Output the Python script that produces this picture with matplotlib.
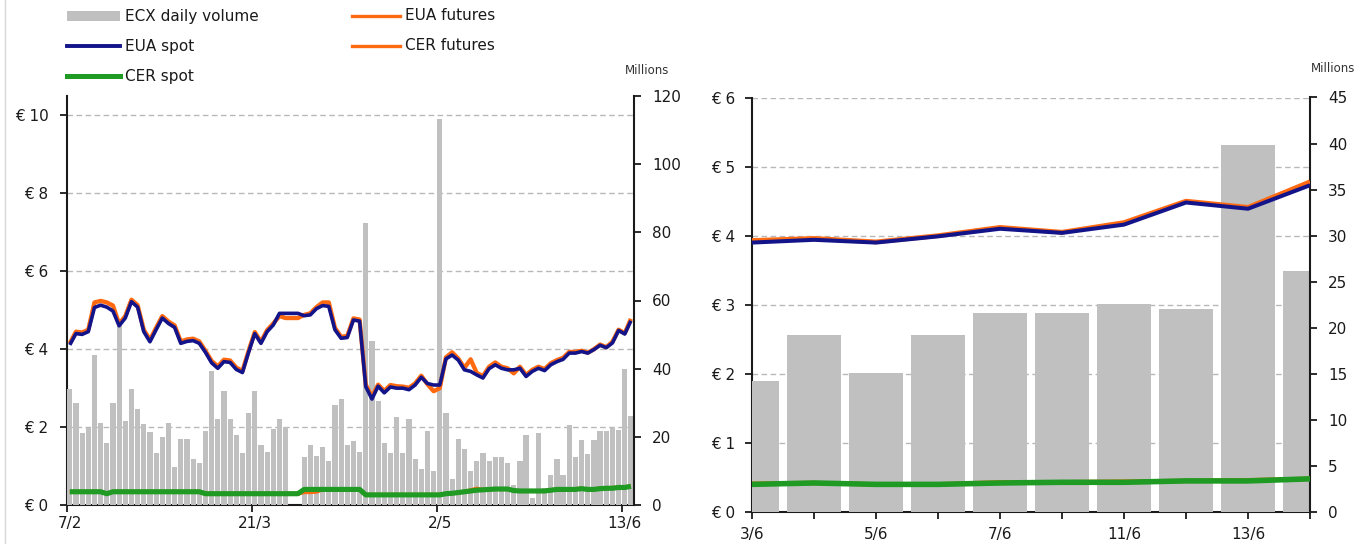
import matplotlib
matplotlib.use("Agg")
import matplotlib.pyplot as plt
from matplotlib.lines import Line2D
from matplotlib.patches import Rectangle
import numpy as np

plt.rcParams['font.family'] = ['DejaVu Sans']

# ---------------- data (business days 7 Feb 2013 .. 14 Jun 2013) ----------------
volume = [34.0, 29.9, 21.2, 22.7, 44.0, 24.0, 18.1, 29.8, 53.0, 24.6,
          34.0, 28.1, 23.9, 21.5, 15.2, 19.9, 24.0, 11.1, 19.3, 19.3,
          13.4, 12.4, 21.7, 39.4, 25.2, 33.5, 25.2, 20.5, 15.2, 26.9,
          33.5, 17.6, 15.6, 22.3, 25.2, 22.9, 0.0, 0.0, 14.0, 17.6,
          14.5, 17.1, 12.9, 29.3, 31.1, 17.6, 18.8, 15.5, 82.7, 48.2,
          30.6, 18.1, 15.2, 25.9, 15.2, 25.2, 13.5, 10.5, 21.7, 10.0,
          113.2, 26.9, 7.5, 19.4, 16.3, 10.0, 12.9, 15.2, 12.9, 14.0,
          14.2, 12.4, 5.9, 13.0, 20.5, 2.0, 21.2, 5.0, 8.8, 13.5,
          8.8, 23.5, 14.2, 19.2, 15.1, 19.2, 21.6, 21.6, 22.6, 22.0,
          39.8, 26.2]

eua_spot = [4.11, 4.40, 4.38, 4.45, 5.07, 5.13, 5.08, 4.98, 4.60, 4.80,
            5.22, 5.08, 4.45, 4.19, 4.50, 4.80, 4.66, 4.56, 4.15, 4.20,
            4.22, 4.15, 3.92, 3.65, 3.51, 3.68, 3.66, 3.48, 3.40, 3.92,
            4.40, 4.15, 4.45, 4.62, 4.92, 4.92, 4.92, 4.92, 4.86, 4.88,
            5.04, 5.12, 5.10, 4.50, 4.28, 4.30, 4.75, 4.72, 3.04, 2.72,
            3.05, 2.88, 3.03, 3.00, 3.00, 2.96, 3.08, 3.28, 3.12, 3.08,
            3.08, 3.75, 3.85, 3.72, 3.47, 3.43, 3.34, 3.26, 3.50, 3.60,
            3.51, 3.47, 3.47, 3.51, 3.30, 3.43, 3.51, 3.45, 3.60, 3.68,
            3.74, 3.90, 3.90, 3.94, 3.90, 3.99, 4.10, 4.04, 4.16, 4.48,
            4.39, 4.73]

eua_futures = [4.15, 4.45, 4.43, 4.50, 5.20, 5.24, 5.20, 5.12, 4.65, 4.85,
               5.27, 5.13, 4.50, 4.24, 4.55, 4.85, 4.71, 4.61, 4.20, 4.25,
               4.27, 4.20, 3.96, 3.70, 3.56, 3.73, 3.71, 3.53, 3.44, 3.96,
               4.44, 4.19, 4.49, 4.66, 4.85, 4.80, 4.80, 4.80, 4.88, 4.92,
               5.08, 5.20, 5.20, 4.55, 4.32, 4.34, 4.79, 4.76, 3.09, 2.78,
               3.09, 2.93, 3.08, 3.05, 3.04, 3.01, 3.12, 3.32, 3.10, 2.92,
               3.00, 3.79, 3.92, 3.76, 3.52, 3.74, 3.39, 3.31, 3.55, 3.66,
               3.55, 3.51, 3.38, 3.55, 3.34, 3.47, 3.55, 3.49, 3.64, 3.72,
               3.78, 3.93, 3.93, 3.96, 3.91, 4.00, 4.12, 4.05, 4.19, 4.50,
               4.41, 4.78]

cer_spot = [0.34, 0.34, 0.34, 0.34, 0.34, 0.34, 0.29, 0.34, 0.34, 0.34,
            0.34, 0.34, 0.34, 0.34, 0.34, 0.34, 0.34, 0.34, 0.34, 0.34,
            0.34, 0.34, 0.29, 0.29, 0.29, 0.29, 0.29, 0.29, 0.29, 0.29,
            0.29, 0.29, 0.29, 0.29, 0.29, 0.29, 0.29, 0.29, 0.40, 0.40,
            0.40, 0.40, 0.40, 0.40, 0.40, 0.40, 0.40, 0.40, 0.26, 0.26,
            0.26, 0.26, 0.26, 0.26, 0.26, 0.26, 0.26, 0.26, 0.26, 0.26,
            0.26, 0.29, 0.30, 0.32, 0.34, 0.36, 0.38, 0.39, 0.40, 0.41,
            0.41, 0.41, 0.37, 0.36, 0.36, 0.36, 0.36, 0.36, 0.38, 0.40,
            0.40, 0.40, 0.40, 0.42, 0.40, 0.40, 0.42, 0.43, 0.43, 0.45,
            0.45, 0.48]

cer_futures = [0.34, 0.34, 0.34, 0.34, 0.34, 0.34, 0.29, 0.34, 0.34, 0.34,
               0.34, 0.34, 0.34, 0.34, 0.34, 0.34, 0.34, 0.34, 0.34, 0.34,
               0.34, 0.34, 0.29, 0.29, 0.29, 0.29, 0.29, 0.29, 0.29, 0.29,
               0.29, 0.29, 0.29, 0.29, 0.29, 0.29, 0.29, 0.29, 0.33, 0.33,
               0.34, 0.40, 0.40, 0.40, 0.40, 0.40, 0.40, 0.40, 0.26, 0.26,
               0.26, 0.26, 0.26, 0.26, 0.26, 0.26, 0.26, 0.26, 0.26, 0.26,
               0.26, 0.29, 0.30, 0.32, 0.34, 0.38, 0.42, 0.39, 0.40, 0.41,
               0.41, 0.41, 0.37, 0.36, 0.36, 0.36, 0.36, 0.36, 0.38, 0.40,
               0.40, 0.40, 0.41, 0.42, 0.40, 0.40, 0.43, 0.43, 0.44, 0.45,
               0.46, 0.48]

left_tick_index = [0, 30, 60, 90]
left_tick_labels = ['7/2', '21/3', '2/5', '13/6']

right_categories = ['3/6', '4/6', '5/6', '6/6', '7/6', '10/6', '11/6', '12/6', '13/6', '14/6']
right_n = len(right_categories)

# ---------------- style ----------------
C_BAR = '#c0c0c0'
C_NAVY = '#14148a'
C_ORANGE = '#ff6a10'
C_GREEN = '#1f9a23'
C_AX = '#1a1a1a'
C_GRID = '#b8b8b8'
FS = 11

W, H = 1371, 544
fig = plt.figure(figsize=(W / 100, H / 100), dpi=100)


def rect_px(x0, y0, x1, y1):
    return [x0 / W, 1 - y1 / H, (x1 - x0) / W, (y1 - y0) / H]


def panel(rect, x, vol, es, ef, cs, cf, xlim, plim, pticks, vlim, vticks,
          barw, lw_main, lw_green, lpad, rpad):
    ax_p = fig.add_axes(rect)
    ax_v = ax_p.twinx()
    ax_l = ax_p.twinx()
    ax_p.set_zorder(1)
    ax_v.set_zorder(2)
    ax_l.set_zorder(3)
    ax_v.patch.set_visible(False)
    ax_l.patch.set_visible(False)

    ax_v.bar(x, vol, width=barw, color=C_BAR, linewidth=0)
    kw = dict(solid_joinstyle='round', solid_capstyle='butt')
    ax_l.plot(x, ef, color=C_ORANGE, lw=lw_main + 0.5, **kw)
    ax_l.plot(x, es, color=C_NAVY, lw=lw_main, **kw)
    ax_l.plot(x, cf, color=C_ORANGE, lw=lw_main + 0.3, **kw)
    ax_l.plot(x, cs, color=C_GREEN, lw=lw_green, **kw)

    for a in (ax_p, ax_v, ax_l):
        a.set_xlim(*xlim)
        for s in a.spines.values():
            s.set_visible(False)
    ax_p.set_ylim(*plim)
    ax_l.set_ylim(*plim)
    ax_v.set_ylim(*vlim)

    ax_p.spines['left'].set_visible(True)
    ax_p.spines['bottom'].set_visible(True)
    ax_v.spines['right'].set_visible(True)
    for s in (ax_p.spines['left'], ax_p.spines['bottom'], ax_v.spines['right']):
        s.set_color(C_AX)
        s.set_linewidth(1.5)

    ax_p.set_yticks(pticks)
    ax_p.set_yticklabels(['€ %g' % v for v in pticks])
    ax_p.yaxis.grid(True, color=C_GRID, linestyle=(0, (4, 2.5)), linewidth=1.0)
    ax_p.set_axisbelow(True)
    ax_p.tick_params(axis='y', direction='out', length=5, width=1.3, color=C_AX,
                     labelsize=FS, labelcolor=C_AX, pad=lpad)

    ax_v.set_yticks(vticks)
    ax_v.set_yticklabels(['%g' % v for v in vticks])
    ax_v.tick_params(axis='y', direction='out', length=5, width=1.3, color=C_AX,
                     labelsize=FS, labelcolor=C_AX, pad=rpad)

    ax_l.set_yticks([])
    ax_l.tick_params(axis='both', length=0)
    return ax_p, ax_v, ax_l


# ---------------- left panel ----------------
n = len(volume)
xl = np.arange(n) + 0.5
axp, axv, axl = panel(rect_px(66.7, 96, 634, 505), xl, volume, eua_spot, eua_futures,
                      cer_spot, cer_futures, (0, n), (0, 10.5), list(range(0, 11, 2)),
                      (0, 120), list(range(0, 121, 20)), 0.84, 2.6, 3.7, 8, 8)
axp.set_xticks(left_tick_index)
axp.set_xticklabels([])
axp.set_xticks([i + 0.5 for i in left_tick_index], minor=True)
axp.set_xticklabels(left_tick_labels, minor=True)
axp.tick_params(axis='x', which='major', direction='out', length=5, width=1.3, color=C_AX)
axp.tick_params(axis='x', which='minor', length=0, labelsize=FS, labelcolor=C_AX, pad=8)

# ---------------- right panel ----------------
xr = np.arange(right_n)
sl = slice(n - right_n, n)
bxp, bxv, bxl = panel(rect_px(752, 97.5, 1310, 512), xr, volume[sl], eua_spot[sl],
                      eua_futures[sl], cer_spot[sl], cer_futures[sl], (0, right_n - 1),
                      (0, 6), list(range(0, 7)), (0, 45), list(range(0, 46, 5)),
                      0.87, 2.9, 4.0, 7, 8)
bxp.set_xticks(xr)
bxp.set_xticklabels([lab if i % 2 == 0 else '' for i, lab in enumerate(right_categories)])
bxp.tick_params(axis='x', direction='out', length=5, width=1.3, color=C_AX,
                labelsize=FS, labelcolor=C_AX, pad=6)

# ---------------- "Millions" captions ----------------
fig.text(647 / W, 1 - 71 / H, 'Millions', fontsize=8.5, color='#333333', ha='center', va='center')
fig.text(1333 / W, 1 - 69 / H, 'Millions', fontsize=8.5, color='#333333', ha='center', va='center')

# ---------------- legend ----------------
def fy(y):
    return 1 - y / H

fig.add_artist(Rectangle((67 / W, fy(21)), 53 / W, 10 / H, transform=fig.transFigure,
                         facecolor=C_BAR, edgecolor='none'))
fig.text(125 / W, fy(16), 'ECX daily volume', fontsize=FS, color=C_AX, va='center')
fig.add_artist(Line2D([67 / W, 120 / W], [fy(46), fy(46)], transform=fig.transFigure,
                      color=C_NAVY, lw=2.8))
fig.text(125 / W, fy(46), 'EUA spot', fontsize=FS, color=C_AX, va='center')
fig.add_artist(Line2D([67 / W, 120 / W], [fy(76), fy(76)], transform=fig.transFigure,
                      color=C_GREEN, lw=3.6))
fig.text(125 / W, fy(76), 'CER spot', fontsize=FS, color=C_AX, va='center')
fig.add_artist(Line2D([352 / W, 400 / W], [fy(16), fy(16)], transform=fig.transFigure,
                      color=C_ORANGE, lw=2.4))
fig.text(405 / W, fy(16), 'EUA futures', fontsize=FS, color=C_AX, va='center')
fig.add_artist(Line2D([352 / W, 400 / W], [fy(46), fy(46)], transform=fig.transFigure,
                      color=C_ORANGE, lw=2.4))
fig.text(405 / W, fy(46), 'CER futures', fontsize=FS, color=C_AX, va='center')

# faint chart border on the far left
fig.add_artist(Line2D([4.5 / W, 4.5 / W], [0, 1], transform=fig.transFigure,
                      color='#d8d8d8', lw=1))

fig.savefig('out.png', dpi=100)
